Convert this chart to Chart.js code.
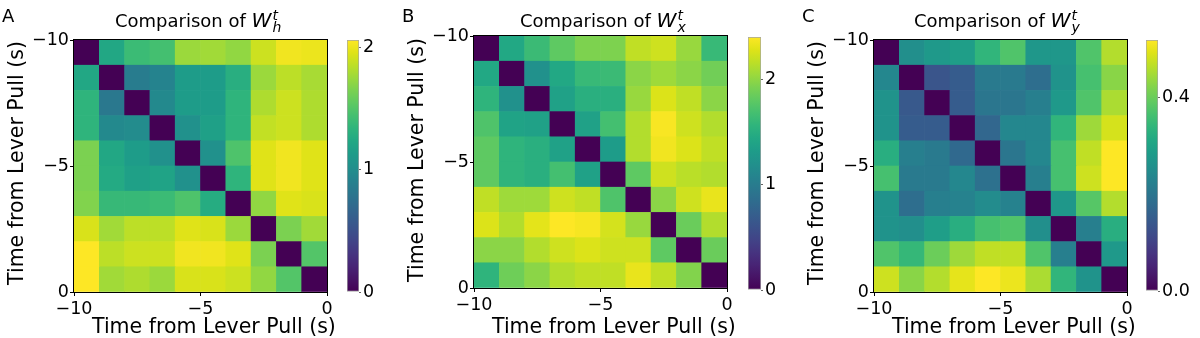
<!DOCTYPE html>
<html>
<head>
<meta charset="utf-8">
<script src="https://cdn.jsdelivr.net/npm/chart.js@4.4.1/dist/chart.umd.min.js"></script>
<style>
  body { margin: 0; background: #fff; }
  #fig { position: relative; width: 1200px; height: 338px; overflow: hidden;
         font-family: "DejaVu Sans", sans-serif; color: #000; }
  #fig canvas { position: absolute; }
  .lbl { position: absolute; white-space: nowrap; line-height: 1; }
  .letter { font-size: 18px; }
  .title { font-size: 18px; }
  .title > i { font-size: 1.12em; }
  .axlab { font-size: 20.5px; }
  .ylab { width: 280px; height: 20px; text-align: center; transform: rotate(-90deg); }
  .ss { display: inline-block; font-size: 0.78em; line-height: 0.8em; vertical-align: -0.36em; margin-left: 1px; }
  .ss i { display: block; }
</style>
</head>
<body>
<div id="fig"></div>
<script>
// bin starts (s) along both axes, axis ticks
const timeBins = [-10, -9, -8, -7, -6, -5, -4, -3, -2, -1];
const axisTicks = [-10, -5, 0];

// W_h^t comparison
const wH = [
  [0.00, 1.23, 1.40, 1.44, 1.75, 1.77, 1.72, 1.90, 2.02, 2.00],
  [1.23, 0.00, 0.86, 0.92, 1.13, 1.13, 1.29, 1.75, 1.85, 1.79],
  [1.34, 0.82, 0.00, 0.97, 1.13, 1.13, 1.34, 1.81, 1.90, 1.81],
  [1.34, 0.97, 0.99, 0.00, 1.03, 1.17, 1.34, 1.87, 1.90, 1.81],
  [1.65, 1.23, 1.13, 1.03, 0.00, 1.03, 1.48, 1.96, 2.02, 1.96],
  [1.65, 1.25, 1.17, 1.19, 1.03, 0.00, 1.34, 1.96, 2.02, 1.96],
  [1.67, 1.38, 1.38, 1.40, 1.48, 1.27, 0.00, 1.72, 1.96, 1.94],
  [1.94, 1.77, 1.85, 1.85, 1.96, 1.94, 1.75, 0.00, 1.65, 1.77],
  [2.06, 1.85, 1.90, 1.90, 2.02, 2.02, 1.96, 1.65, 0.00, 1.50],
  [2.06, 1.77, 1.81, 1.75, 1.94, 1.94, 1.90, 1.72, 1.50, 0.00]
];

// W_x^t comparison
const wX = [
  [0.00, 1.44, 1.63, 1.80, 1.93, 1.93, 2.17, 2.22, 2.03, 1.61],
  [1.44, 0.00, 1.20, 1.44, 1.61, 1.63, 1.98, 2.05, 1.98, 1.88],
  [1.56, 1.20, 0.00, 1.37, 1.51, 1.51, 2.03, 2.27, 2.17, 1.98],
  [1.73, 1.39, 1.37, 0.00, 1.37, 1.68, 2.12, 2.38, 2.22, 2.12],
  [1.80, 1.56, 1.51, 1.37, 0.00, 1.32, 2.12, 2.35, 2.27, 2.17],
  [1.80, 1.56, 1.51, 1.68, 1.37, 0.00, 1.80, 2.22, 2.15, 2.12],
  [2.17, 2.05, 2.05, 2.22, 2.17, 1.73, 0.00, 1.98, 2.22, 2.32],
  [2.27, 2.12, 2.30, 2.40, 2.37, 2.24, 2.03, 0.00, 1.85, 2.12],
  [1.98, 1.98, 2.12, 2.22, 2.27, 2.22, 2.22, 1.80, 0.00, 1.85],
  [1.56, 1.87, 1.98, 2.12, 2.17, 2.17, 2.32, 2.17, 1.95, 0.00]
];

// W_y^t comparison
const wY = [
  [0.000, 0.255, 0.280, 0.290, 0.340, 0.376, 0.275, 0.275, 0.376, 0.460],
  [0.240, 0.000, 0.135, 0.150, 0.213, 0.213, 0.187, 0.265, 0.366, 0.428],
  [0.265, 0.145, 0.000, 0.150, 0.203, 0.203, 0.223, 0.280, 0.376, 0.454],
  [0.265, 0.150, 0.150, 0.000, 0.171, 0.240, 0.240, 0.340, 0.444, 0.486],
  [0.325, 0.223, 0.213, 0.177, 0.000, 0.203, 0.240, 0.366, 0.470, 0.520],
  [0.366, 0.213, 0.213, 0.240, 0.192, 0.000, 0.223, 0.366, 0.480, 0.520],
  [0.265, 0.187, 0.223, 0.229, 0.249, 0.229, 0.000, 0.275, 0.382, 0.460],
  [0.265, 0.255, 0.290, 0.325, 0.366, 0.376, 0.255, 0.000, 0.223, 0.325],
  [0.376, 0.346, 0.402, 0.444, 0.470, 0.470, 0.376, 0.223, 0.000, 0.280],
  [0.480, 0.428, 0.460, 0.500, 0.520, 0.505, 0.454, 0.340, 0.265, 0.000]
];

// colour bar ranges and ticks
const cbarMax = [2.06, 2.4, 0.52];
const cbarStep = [1, 1, 0.4];
const cbarDigits = [0, 0, 1];

const viridisStops = [
  '#440154', '#471365', '#482475', '#463480', '#414487', '#3b528b', '#355f8d',
  '#2f6c8e', '#2a788e', '#25848e', '#21918c', '#1e9c89', '#22a884', '#2fb47c',
  '#44bf70', '#5ec962', '#7ad151', '#9bd93c', '#bddf26', '#dfe318', '#fde725'
];

function hexRgb(h) {
  return [1, 3, 5].map(i => parseInt(h.slice(i, i + 2), 16));
}

function viridis(t) {
  t = Math.min(1, Math.max(0, t));
  const n = viridisStops.length - 1;
  const i = Math.min(n - 1, Math.floor(t * n));
  const f = t * n - i;
  const a = hexRgb(viridisStops[i]);
  const b = hexRgb(viridisStops[i + 1]);
  const c = a.map((v, k) => Math.round(v + (b[k] - v) * f));
  return `rgb(${c[0]}, ${c[1]}, ${c[2]})`;
}

const minus = v => (v < 0 ? '\u2212' + Math.abs(v) : String(v));

Chart.defaults.font.family = '"DejaVu Sans", sans-serif';
Chart.defaults.color = '#000';
Chart.defaults.animation = false;

const frame = {
  id: 'frame',
  afterDraw(chart) {
    const { ctx, chartArea: a } = chart;
    ctx.save();
    ctx.strokeStyle = '#000';
    ctx.lineWidth = 1;
    ctx.strokeRect(Math.round(a.left) - 0.5, Math.round(a.top) - 0.5,
      Math.round(a.right - a.left) + 1, Math.round(a.bottom - a.top) + 1);
    ctx.restore();
  }
};

const panels = [
  { letter: 'A', sub: 'h', values: wH, plot: [74, 40, 327, 292], cbar: [347, 40, 359, 292], title: 115, xlab: 92, ylab: 163 },
  { letter: 'B', sub: 'x', values: wX, plot: [474, 36, 727, 288], cbar: [748, 37, 761, 290], title: 520, xlab: 492, ylab: 160 },
  { letter: 'C', sub: 'y', values: wY, plot: [874, 40, 1127, 292], cbar: [1146, 40, 1158, 291], title: 914, xlab: 892, ylab: 163 }
];

const fig = document.getElementById('fig');

function addCanvas(left, top, w, h) {
  const cv = document.createElement('canvas');
  cv.width = w;
  cv.height = h;
  cv.style.left = left + 'px';
  cv.style.top = top + 'px';
  fig.appendChild(cv);
  return cv;
}

function addText(cls, left, top, html) {
  const d = document.createElement('div');
  d.className = 'lbl ' + cls;
  d.style.left = left + 'px';
  d.style.top = top + 'px';
  d.innerHTML = html;
  fig.appendChild(d);
}

function cells(matrix) {
  const out = [];
  matrix.forEach((row, r) => row.forEach((v, c) => {
    out.push({ x: timeBins[c] + 0.5, y: [timeBins[r], timeBins[r] + 1], v });
  }));
  return out;
}

const tickFont = { size: 17.5 };

panels.forEach((p, k) => {
  const [pl, pt, pr, pb] = p.plot;
  const yW = 70, padR = 14;
  const vmax = cbarMax[k];

  new Chart(addCanvas(pl - yW, 0, yW + (pr - pl) + padR, 338), {
    type: 'bar',
    data: {
      datasets: [{
        data: cells(p.values),
        backgroundColor: c => viridis(c.raw.v / vmax),
        borderWidth: 0,
        barPercentage: 1,
        categoryPercentage: 1
      }]
    },
    options: {
      responsive: false,
      events: [],
      layout: { padding: { top: pt, right: padR, left: 0, bottom: 0 } },
      plugins: { legend: { display: false }, tooltip: { enabled: false } },
      scales: {
        x: {
          type: 'linear', min: axisTicks[0], max: axisTicks[2], offset: false,
          afterBuildTicks: s => { s.ticks = axisTicks.map(v => ({ value: v })); },
          ticks: { callback: minus, font: tickFont, maxRotation: 0, padding: 3 },
          grid: { drawOnChartArea: false, offset: false, tickLength: 4, tickColor: '#000' },
          border: { display: false },
          afterFit: s => { s.height = 338 - pb; }
        },
        y: {
          type: 'linear', min: axisTicks[0], max: axisTicks[2], reverse: true,
          afterBuildTicks: s => { s.ticks = axisTicks.map(v => ({ value: v })); },
          ticks: { callback: minus, font: tickFont, padding: 1 },
          grid: { drawOnChartArea: false, tickLength: 4, tickColor: '#000' },
          border: { display: false },
          afterFit: s => { s.width = yW; }
        }
      }
    },
    plugins: [frame]
  });

  const [cl, ct, cr, cb] = p.cbar;
  new Chart(addCanvas(cl, 0, (cr - cl) + 42, 338), {
    type: 'bar',
    data: {
      labels: [''],
      datasets: [{
        data: [[0, vmax]],
        backgroundColor: c => {
          const a = c.chart.chartArea;
          if (!a) return viridisStops[0];
          const g = c.chart.ctx.createLinearGradient(0, a.bottom, 0, a.top);
          viridisStops.forEach((s, i) => g.addColorStop(i / (viridisStops.length - 1), s));
          return g;
        },
        borderColor: 'rgba(0, 0, 0, 0.35)',
        borderWidth: 1,
        borderSkipped: false,
        barPercentage: 1,
        categoryPercentage: 1
      }]
    },
    options: {
      responsive: false,
      events: [],
      layout: { padding: { top: ct, bottom: 338 - cb, left: 0, right: 0 } },
      plugins: { legend: { display: false }, tooltip: { enabled: false } },
      scales: {
        x: { display: false },
        y: {
          position: 'right', min: 0, max: vmax,
          ticks: {
            stepSize: cbarStep[k], includeBounds: false, font: tickFont, padding: 2,
            callback: v => v.toFixed(cbarDigits[k])
          },
          grid: { drawOnChartArea: false, tickLength: 2, tickColor: '#666' },
          border: { display: false },
          afterFit: s => { s.width = 42; }
        }
      }
    }
  });

  const dx = k * 400;
  addText('letter', 2 + dx, 6.5, p.letter);
  addText('title', p.title, 9.5,
    `Comparison of <i>W</i><span class="ss"><i>t</i><i>${p.sub}</i></span>`);
  addText('axlab', p.xlab, 316, 'Time from Lever Pull (s)');
  addText('axlab ylab', 16 + dx - 140, p.ylab - 10, 'Time from Lever Pull (s)');
});
</script>
</body>
</html>
